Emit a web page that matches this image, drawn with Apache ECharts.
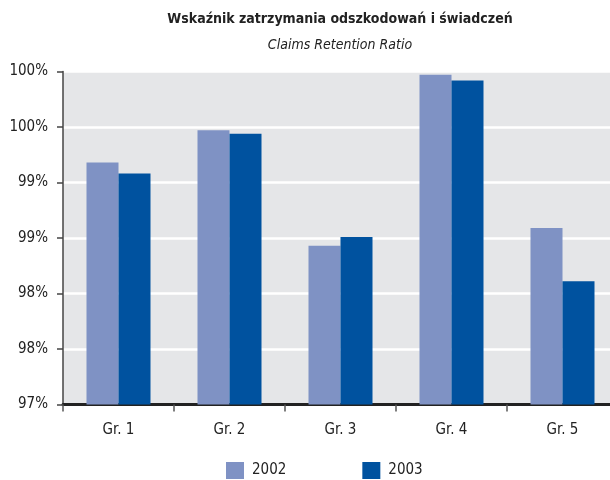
<!DOCTYPE html>
<html>
<head>
<meta charset="utf-8">
<script src="https://cdn.jsdelivr.net/npm/echarts@6/dist/echarts.min.js"></script>
<style>
  html, body { margin: 0; padding: 0; background: #ffffff; }
  #chart { width: 610px; height: 480px; }
</style>
</head>
<body>
<div id="chart"></div>
<script>
// Claims retention ratio per group, in percent
const categories = ['Gr. 1', 'Gr. 2', 'Gr. 3', 'Gr. 4', 'Gr. 5'];
const years = ['2002', '2003'];
const values2002 = [99.18, 99.47, 98.43, 99.97, 98.59];
const values2003 = [99.08, 99.44, 98.51, 99.92, 98.11];
const yTicks = [97, 97.5, 98, 98.5, 99, 99.5, 100];

const FONT = '"Liberation Sans Narrow", "DejaVu Sans Condensed", "Roboto", sans-serif';
const TEXT = '#222222';

const chart = echarts.init(document.getElementById('chart'), null, { renderer: 'canvas' });

chart.setOption({
  animation: false,
  backgroundColor: '#ffffff',
  title: [
    {
      text: 'Wskaźnik zatrzymania odszkodowań i świadczeń',
      left: 340, top: 12, textAlign: 'center', padding: 0,
      textStyle: { fontFamily: FONT, fontSize: 14, fontWeight: 'bold', color: TEXT }
    },
    {
      text: 'Claims Retention Ratio',
      left: 340, top: 38, textAlign: 'center', padding: 0,
      textStyle: { fontFamily: FONT, fontSize: 14, fontStyle: 'italic', fontWeight: 'normal', color: TEXT }
    }
  ],
  legend: {
    data: years,
    left: 226, top: 462, padding: 0,
    itemWidth: 18, itemHeight: 17, itemGap: 76,
    icon: 'rect',
    textStyle: { fontFamily: FONT, fontSize: 15, color: TEXT, padding: [0, 0, 0, 3] }
  },
  grid: {
    left: 63, top: 71.5, height: 333, width: 555,
    outerBoundsMode: 'none', containLabel: false,
    show: true, backgroundColor: '#e5e6e8', borderWidth: 0
  },
  xAxis: {
    type: 'category',
    data: categories,
    boundaryGap: true,
    axisLine: { show: true, lineStyle: { color: '#222222', width: 3 } },
    axisTick: { show: true, length: 7, lineStyle: { color: '#555555', width: 1.5 } },
    axisLabel: { margin: 18, fontFamily: FONT, fontSize: 15, color: TEXT },
    splitLine: { show: false }
  },
  yAxis: {
    type: 'value',
    min: yTicks[0], max: yTicks[yTicks.length - 1], interval: 0.5,
    axisLine: { show: true, lineStyle: { color: '#444444', width: 1.5 } },
    axisTick: { show: true, length: 6, lineStyle: { color: '#444444', width: 1.5 } },
    axisLabel: {
      margin: 15, fontFamily: FONT, fontSize: 15, color: TEXT,
      formatter: v => Math.round(v) + '%'
    },
    splitLine: { show: true, lineStyle: { color: '#ffffff', width: 2.5 } }
  },
  series: [
    {
      name: years[0], type: 'bar', data: values2002,
      barWidth: 32, barGap: '0%',
      itemStyle: { color: '#7f92c4' }
    },
    {
      name: years[1], type: 'bar', data: values2003,
      barWidth: 32, barGap: '0%',
      itemStyle: { color: '#00529f' }
    }
  ]
});
</script>
</body>
</html>
